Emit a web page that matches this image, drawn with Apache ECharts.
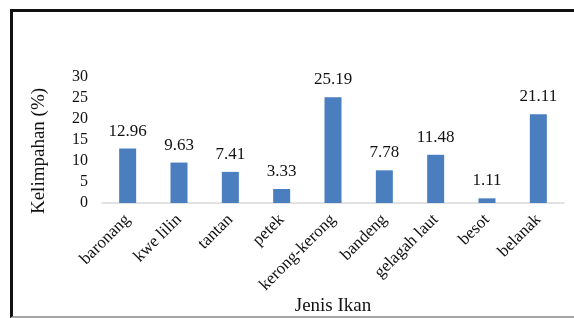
<!DOCTYPE html>
<html>
<head>
<meta charset="utf-8">
<script src="https://cdn.jsdelivr.net/npm/echarts@6/dist/echarts.min.js"></script>
<style>
  html, body { margin: 0; padding: 0; background: #fff; overflow: hidden; width: 574px; height: 318px; }
  #chart { position: absolute; left: 0; top: 0; width: 574px; height: 318px; }
  #frame { position: absolute; left: 10px; top: 9px; width: 561px; height: 304px;
           border-left: 3px solid #111; border-top: 3px solid #111; border-bottom: 2px solid #a6a6a6;
           pointer-events: none; }
</style>
</head>
<body>
<div id="chart"></div>
<div id="frame"></div>
<script>
const categories = ['baronang', 'kwe lilin', 'tantan', 'petek', 'kerong-kerong', 'bandeng', 'gelagah laut', 'besot', 'belanak'];
const values = [12.96, 9.63, 7.41, 3.33, 25.19, 7.78, 11.48, 1.11, 21.11];
const yTicks = [0, 5, 10, 15, 20, 25, 30];

const font = 'Liberation Serif';
const chart = echarts.init(document.getElementById('chart'), null, { renderer: 'canvas' });
chart.setOption({
  animation: false,
  grid: { left: 102, right: 10, top: 77, bottom: 115, containLabel: false, outerBoundsMode: 'none' },
  xAxis: {
    type: 'category',
    data: categories,
    name: 'Jenis Ikan',
    nameLocation: 'middle',
    nameGap: 92,
    nameTextStyle: { fontFamily: font, fontSize: 19, color: '#111' },
    axisLine: { show: true, lineStyle: { color: '#d9d9d9', width: 1.5 } },
    axisTick: { show: false },
    axisLabel: { rotate: 45, interval: 0, margin: 14, fontFamily: font, fontSize: 17, color: '#111' }
  },
  yAxis: {
    type: 'value',
    min: yTicks[0],
    max: yTicks[yTicks.length - 1],
    interval: 5,
    name: 'Kelimpahan (%)',
    nameLocation: 'middle',
    nameGap: 53,
    nameRotate: 90,
    nameTextStyle: { fontFamily: font, fontSize: 19, color: '#111', padding: [0, 22, 0, 0] },
    axisLine: { show: false },
    axisTick: { show: false },
    splitLine: { show: false },
    axisLabel: { margin: 14, fontFamily: font, fontSize: 16, color: '#111' }
  },
  series: [{
    type: 'bar',
    data: values,
    barWidth: 17,
    itemStyle: { color: '#4a7ebf' },
    label: {
      show: true,
      position: 'top',
      distance: 9,
      fontFamily: font,
      fontSize: 17,
      color: '#111',
      formatter: p => p.value.toFixed(2)
    }
  }]
});
</script>
</body>
</html>
